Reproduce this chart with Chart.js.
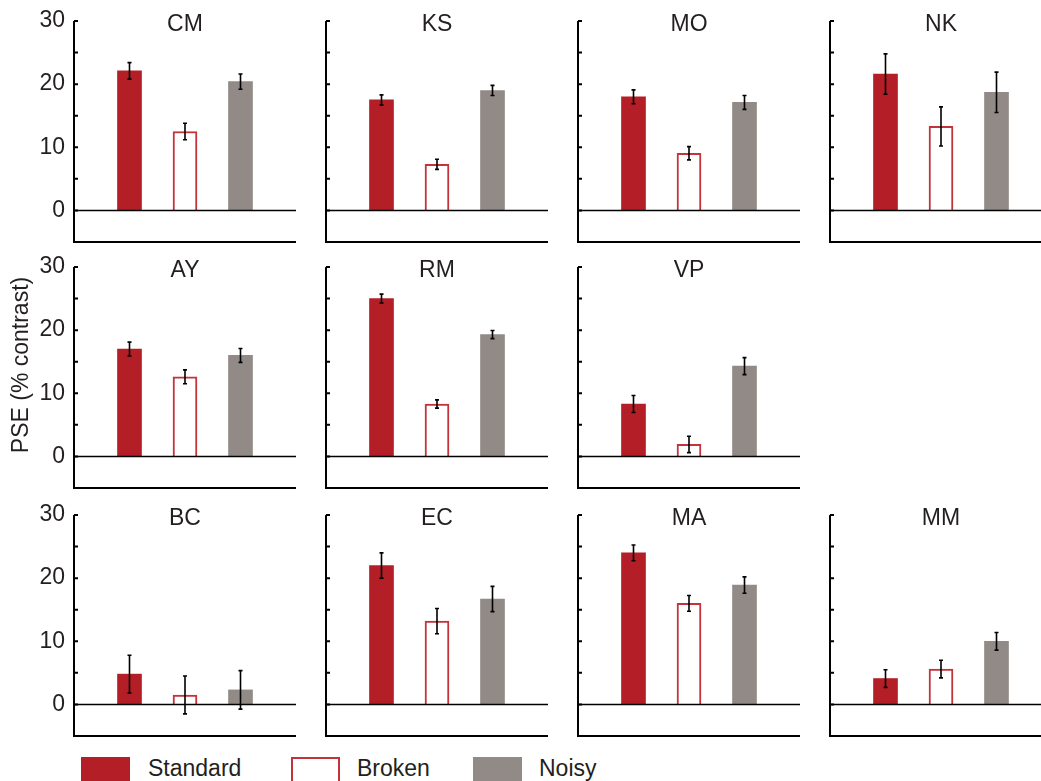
<!DOCTYPE html>
<html>
<head>
<meta charset="utf-8">
<script src="https://cdn.jsdelivr.net/npm/chart.js@4.4.0/dist/chart.umd.min.js"></script>
<style>
  body { margin: 0; background: #fff; width: 1041px; height: 781px; overflow: hidden; position: relative;
         font-family: "Liberation Sans", Arial, sans-serif; color: #231f20; }
  .panel { position: absolute; width: 300px; height: 250px; }
  .sw { position: absolute; top: 757px; width: 49px; height: 26px; box-sizing: border-box; }
  .lt { position: absolute; top: 755px; font-size: 23px; line-height: 26px; }
</style>
</head>
<body>

<div class="sw" style="left:81px;background:#b41f27"></div>
<div class="lt" style="left:148px">Standard</div>
<div class="sw" style="left:291px;border:2px solid #c4323a;background:#fff"></div>
<div class="lt" style="left:357px">Broken</div>
<div class="sw" style="left:473px;background:#918a87"></div>
<div class="lt" style="left:539px">Noisy</div>

<script>
// subjects, in panel order (row by row)
const subjects = ['CM', 'KS', 'MO', 'NK', 'AY', 'RM', 'VP', 'BC', 'EC', 'MA', 'MM'];
const conditions = ['Standard', 'Broken', 'Noisy'];

const standard    = [22.1, 17.5, 18.0, 21.6, 17.0, 25.0, 8.3, 4.8, 22.0, 24.0, 4.1];
const standardErr = [1.3, 0.8, 1.1, 3.2, 1.1, 0.7, 1.35, 3.0, 2.0, 1.25, 1.4];
const broken      = [12.5, 7.3, 9.05, 13.3, 12.6, 8.3, 1.9, 1.5, 13.2, 16.0, 5.6];
const brokenErr   = [1.3, 0.8, 1.05, 3.1, 1.1, 0.65, 1.3, 3.0, 2.0, 1.25, 1.4];
const noisy       = [20.4, 19.0, 17.1, 18.7, 16.0, 19.3, 14.3, 2.3, 16.7, 18.9, 10.0];
const noisyErr    = [1.2, 0.8, 1.1, 3.2, 1.1, 0.65, 1.35, 3.05, 2.0, 1.3, 1.4];

const yTickLabels = [0, 10, 20, 30];
const yMinorTicks = [-5, 0, 5, 10, 15, 20, 25, 30];
const yLabel = 'PSE (% contrast)';

// grid slot [row, col] of each panel
const slots = [[0,0],[0,1],[0,2],[0,3],[1,0],[1,1],[1,2],[2,0],[2,1],[2,2],[2,3]];
const colLeft = [0, 252, 504, 756];
const rowTop = [0, 246, 494];

const RED = '#b41f27', RED_EDGE = '#c4323a', GRAY = '#918a87', INK = '#231f20';

const decor = {
  id: 'decor',
  afterDatasetsDraw(chart, args, opts) {
    const ctx = chart.ctx, x = chart.scales.x, y = chart.scales.y;
    const a = chart.chartArea;
    ctx.save();
    ctx.strokeStyle = '#000';

    // zero line
    ctx.lineWidth = 1.5;
    ctx.beginPath();
    ctx.moveTo(a.left, y.getPixelForValue(0));
    ctx.lineTo(a.right, y.getPixelForValue(0));
    ctx.stroke();

    // error bars
    const ds = chart.data.datasets[0];
    ctx.lineWidth = 1.6;
    ds.data.forEach((d, i) => {
      const px = x.getPixelForValue(d.x);
      const top = y.getPixelForValue(d.y + ds.errors[i]);
      const bot = y.getPixelForValue(d.y - ds.errors[i]);
      ctx.beginPath();
      ctx.moveTo(px, top); ctx.lineTo(px, bot);
      ctx.moveTo(px - 2, top); ctx.lineTo(px + 2, top);
      ctx.moveTo(px - 2, bot); ctx.lineTo(px + 2, bot);
      ctx.stroke();
    });

    // axes
    ctx.lineWidth = 2;
    ctx.beginPath();
    ctx.moveTo(a.left, y.getPixelForValue(30));
    ctx.lineTo(a.left, y.getPixelForValue(-5));
    ctx.lineTo(a.right, y.getPixelForValue(-5));
    ctx.stroke();
    ctx.beginPath();
    yMinorTicks.forEach(v => {
      const py = y.getPixelForValue(v);
      ctx.moveTo(a.left, py); ctx.lineTo(a.left + 4, py);
    });
    ctx.stroke();

    ctx.fillStyle = INK;
    ctx.font = '23px "Liberation Sans", Arial, sans-serif';
    ctx.textAlign = 'center';
    ctx.textBaseline = 'middle';
    ctx.fillText(opts.title, (a.left + a.right) / 2, a.top + 4);

    if (opts.showTicks) {
      ctx.textAlign = 'right';
      yTickLabels.forEach(v => ctx.fillText(String(v), a.left - 9, y.getPixelForValue(v)));
    }
    if (opts.showYLabel) {
      ctx.translate(22, 119);
      ctx.rotate(-Math.PI / 2);
      ctx.textAlign = 'center';
      ctx.fillText(yLabel, 0, 0);
    }
    ctx.restore();
  }
};

subjects.forEach((name, i) => {
  const [r, c] = slots[i];
  const cv = document.createElement('canvas');
  cv.className = 'panel';
  cv.width = 300; cv.height = 250;
  cv.style.left = colLeft[c] + 'px';
  cv.style.top = rowTop[r] + 'px';
  document.body.appendChild(cv);

  new Chart(cv, {
    type: 'bar',
    data: {
      datasets: [{
        label: name,
        data: [{x: 1, y: standard[i]}, {x: 2, y: broken[i]}, {x: 3, y: noisy[i]}],
        errors: [standardErr[i], brokenErr[i], noisyErr[i]],
        backgroundColor: [RED, '#fff', GRAY],
        borderColor: [RED, RED_EDGE, GRAY],
        borderWidth: [0, 2, 0],
        barThickness: 24
      }]
    },
    options: {
      responsive: false,
      animation: false,
      layout: { padding: { left: 74, top: 21, right: 4, bottom: 8 } },
      plugins: {
        legend: { display: false },
        tooltip: { enabled: false },
        decor: { title: name, showTicks: c === 0, showYLabel: name === 'AY' }
      },
      scales: {
        x: { type: 'linear', min: 0, max: 4, offset: false, display: false },
        y: { min: -5, max: 30, display: false }
      }
    },
    plugins: [decor]
  });
});
</script>
</body>
</html>
